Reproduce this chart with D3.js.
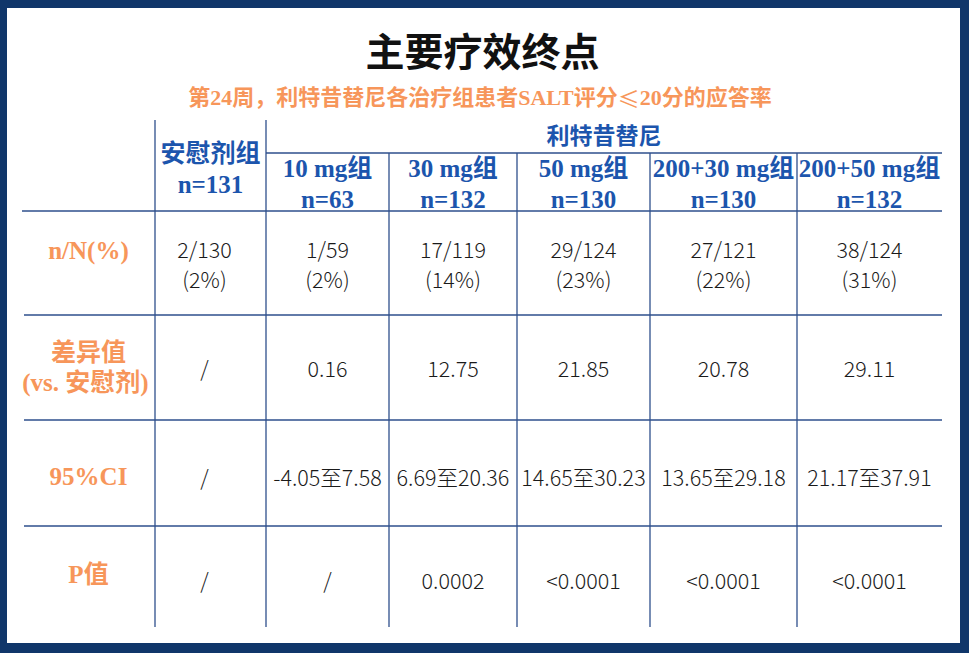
<!DOCTYPE html>
<html>
<head>
<meta charset="utf-8">
<script src="https://cdn.jsdelivr.net/npm/d3@7"></script>
<style>
  html, body { margin: 0; padding: 0; background: #fff; }
  svg { display: block; }
</style>
</head>
<body>
<div id="chart"></div>
<script>
// data
var groups = ["安慰剂组", "10 mg组", "30 mg组", "50 mg组", "200+30 mg组", "200+50 mg组"];
var groupN = [131, 63, 132, 130, 130, 132];
var responders = [2, 1, 17, 29, 27, 38];
var evaluated = [130, 59, 119, 124, 121, 124];
var pct = [2, 2, 14, 23, 22, 31];
var diff = [null, 0.16, 12.75, 21.85, 20.78, 29.11];
var ciLow = [null, -4.05, 6.69, 14.65, 13.65, 21.17];
var ciHigh = [null, 7.58, 20.36, 30.23, 29.18, 37.91];
var pValue = ["/", "/", "0.0002", "<0.0001", "<0.0001", "<0.0001"];
var rowKeys = ["nN", "diff", "ci", "p"];
var rowLabels = [["n/N(%)"], ["差异值", "(vs. 安慰剂)"], ["95%CI"], ["P值"]];
var drugName = "利特昔替尼";
var title = "主要疗效终点";
var subtitle = "第24周，利特昔替尼各治疗组患者SALT评分≤20分的应答率";

var width = 969, height = 653;
var navy = "#10366a", blue = "#1c55ad", orange = "#f7965a", grid = "#2e4f8c";
var serif = "'Liberation Serif', 'Noto Sans CJK SC', serif";
var sans = "'Noto Sans CJK SC', 'Noto Sans', sans-serif";

// column edges: label column then one per group
var colEdges = [22, 155, 266, 389, 517, 650, 797, 942];
var rowEdges = [211, 315, 420, 526, 627];
var colKeys = ["label"].concat(groups);

var x = d3.scaleOrdinal().domain(colKeys)
    .range(colKeys.map(function(d, i) { return (colEdges[i] + colEdges[i + 1]) / 2; }));
var y = d3.scaleOrdinal().domain(rowKeys)
    .range(rowKeys.map(function(d, i) { return (rowEdges[i] + rowEdges[i + 1]) / 2; }));

var f2 = d3.formatLocale({ decimal: ".", thousands: ",", grouping: [3], currency: ["", ""], minus: "-" }).format(".2f");

var svg = d3.select("#chart").append("svg")
    .attr("width", width)
    .attr("height", height);

// frame
svg.append("rect").attr("width", width).attr("height", height).attr("fill", navy);
svg.append("rect").attr("x", 7).attr("y", 8).attr("width", 953).attr("height", 635).attr("fill", "#fff");

svg.append("text")
    .attr("x", width / 2 - 2).attr("y", 52)
    .attr("text-anchor", "middle").attr("dominant-baseline", "central")
    .style("font-family", serif).style("font-weight", 700).style("font-size", "39px")
    .attr("fill", "#111")
    .text(title);

// subtitle: the ≤ sign drawn with the CJK font so it keeps its full width
var sub = svg.append("text")
    .attr("x", 480).attr("y", 97)
    .attr("text-anchor", "middle").attr("dominant-baseline", "central")
    .style("font-family", serif).style("font-weight", 700).style("font-size", "22px")
    .attr("fill", orange);
subtitle.split(/(≤)/).forEach(function(part) {
  var t = sub.append("tspan").text(part);
  if (part === "≤") t.style("font-family", sans).style("font-weight", 400);
});

// grid lines
var lines = svg.append("g").attr("stroke", grid).attr("stroke-width", 1.3);
colEdges.slice(1, 7).forEach(function(cx, i) {
  lines.append("line")
      .attr("x1", cx).attr("x2", cx)
      .attr("y1", i < 2 ? 120 : 153).attr("y2", rowEdges[4]);
});
lines.append("line").attr("x1", colEdges[2]).attr("x2", colEdges[7]).attr("y1", 153).attr("y2", 153);
rowEdges.slice(0, 4).forEach(function(ry, i) {
  lines.append("line").attr("x1", i ? 24 : 22).attr("x2", colEdges[7]).attr("y1", ry).attr("y2", ry);
});

// header
var head = svg.append("g")
    .style("font-family", serif).style("font-weight", 700).style("font-size", "25px")
    .attr("fill", blue).attr("text-anchor", "middle").attr("dominant-baseline", "central");

head.append("text").attr("x", (colEdges[2] + colEdges[7]) / 2).attr("y", 136)
    .style("font-size", "23px").text(drugName);
groups.forEach(function(g, i) {
  var top = i === 0 ? 153 : 168;
  head.append("text").attr("x", x(g)).attr("y", top).text(g);
  head.append("text").attr("x", x(g)).attr("y", top + 31).text("n=" + groupN[i]);
});

// row labels
var lab = svg.append("g")
    .style("font-family", serif).style("font-weight", 700).style("font-size", "25px")
    .attr("fill", orange).attr("text-anchor", "middle").attr("dominant-baseline", "central");
var labOffset = [-13, 0, 3, -2];
rowKeys.forEach(function(k, i) {
  var ls = rowLabels[i];
  ls.forEach(function(t, j) {
    lab.append("text")
        .attr("x", x("label") - (j === 1 ? 3 : 0))
        .attr("y", y(k) + labOffset[i] + (j - (ls.length - 1) / 2) * 30)
        .text(t);
  });
});

// cells
var cells = [];
groups.forEach(function(g, i) {
  cells.push({ col: g, row: "nN", lines: [responders[i] + "/" + evaluated[i], "(" + pct[i] + "%)"] });
  cells.push({ col: g, row: "diff", lines: [diff[i] == null ? "/" : f2(diff[i])] });
  cells.push({ col: g, row: "ci", lines: [ciLow[i] == null ? "/" : f2(ciLow[i]) + "至" + f2(ciHigh[i])] });
  cells.push({ col: g, row: "p", lines: [pValue[i]] });
});
var rowShift = { nN: 0, diff: 0, ci: 3, p: 3 };

var body = svg.append("g")
    .style("font-family", sans).style("font-weight", 300).style("font-size", "21.5px")
    .attr("fill", "#1a1a1a").attr("text-anchor", "middle").attr("dominant-baseline", "central");
body.selectAll("g.cell").data(cells).enter().append("g").attr("class", "cell")
  .each(function(d) {
    var n = d.lines.length;
    d3.select(this).selectAll("text").data(d.lines).enter().append("text")
        .attr("x", x(d.col) - (d.col === groups[0] ? 6 : 0))
        .attr("y", function(t, j) { return y(d.row) + rowShift[d.row] + (j - (n - 1) / 2) * 30; })
        .text(function(t) { return t; });
  });
</script>
</body>
</html>
